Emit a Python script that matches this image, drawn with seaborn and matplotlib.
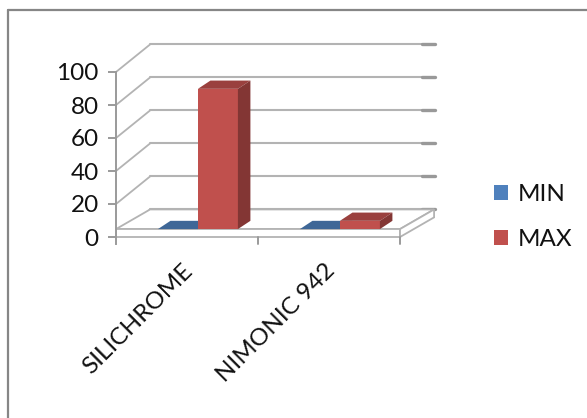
import matplotlib
matplotlib.use('Agg')
import matplotlib.pyplot as plt
from matplotlib.patches import Polygon, Patch
from matplotlib.transforms import ScaledTranslation
import seaborn as sns
import pandas as pd
import numpy as np

# data
materials = ["SILICHROME", "NIMONIC 942"]
series = ["MIN", "MAX"]
min_vals = [0, 0]
max_vals = [85, 5]
y_ticks = [0, 20, 40, 60, 80, 100]

colors = ["#4F81BD", "#C0504D"]
grid_col = "#b3b3b3"
axis_col = "#9a9a9a"

# 3d look (data units)
FLOOR = 4.8        # thickness of the floor slab
WALL_DX = 0.24     # depth offset of the back wall
WALL_DY = 16.7
BAR_DX = 0.088     # depth of a bar
BAR_DY = 5.0
BAR_SHIFT = 0.077
WALL_RIGHT = 1.655
STUB_RIGHT = 1.745
FS = 17.5

df = pd.DataFrame({
    "material": materials * 2,
    "series": [series[0]] * len(materials) + [series[1]] * len(materials),
    "value": min_vals + max_vals,
})

sns.set_style("white")
plt.rcParams['font.family'] = ['Lato', 'DejaVu Sans']

fig = plt.figure(figsize=(5.87, 4.18), dpi=100)
ax = fig.add_axes([116 / 587, 1 - 243.6 / 418, 319.5 / 587, 201.3 / 418])

sns.barplot(data=df, x="material", y="value", hue="series", palette=colors,
            width=0.563, saturation=1, ax=ax, legend=False, linewidth=0,
            order=materials, hue_order=series)

ax.set_xlim(-0.5, 1.75)
ax.set_ylim(-4, 118)


def shade(c, f):
    rgb = np.array(matplotlib.colors.to_rgb(c)) * f
    return tuple(rgb)


# back wall gridlines + left side diagonals
for v in y_ticks:
    ax.plot([-0.5 + WALL_DX, WALL_RIGHT], [v + WALL_DY, v + WALL_DY],
            color=grid_col, lw=1.5, zorder=1, clip_on=False)
    ax.plot([-0.5, -0.5 + WALL_DX], [v, v + WALL_DY],
            color=grid_col, lw=1.3, zorder=1, clip_on=False)
    ax.plot([WALL_RIGHT, STUB_RIGHT], [v + WALL_DY, v + WALL_DY],
            color="#999999", lw=2.4, zorder=1, clip_on=False)

# floor slab
floor_top = Polygon([(-0.5, FLOOR), (1.5, FLOOR), (1.5 + WALL_DX, WALL_DY),
                     (-0.5 + WALL_DX, WALL_DY)], closed=True,
                    facecolor="white", edgecolor=grid_col, lw=1.3, zorder=2)
floor_front = Polygon([(-0.5, 0), (1.5, 0), (1.5, FLOOR), (-0.5, FLOOR)],
                      closed=True, facecolor="white", edgecolor=grid_col,
                      lw=1.3, zorder=2)
floor_side = Polygon([(1.5, 0), (1.5 + WALL_DX, WALL_DY - FLOOR),
                      (1.5 + WALL_DX, WALL_DY), (1.5, FLOOR)], closed=True,
                     facecolor="white", edgecolor=grid_col, lw=1.3, zorder=2)
for p in (floor_top, floor_front, floor_side):
    ax.add_patch(p)

# x ticks on the floor edge
for xt in [0.5, 1.5]:
    ax.plot([xt, xt], [0, -4], color=axis_col, lw=1.4, zorder=2, clip_on=False)

# turn the flat seaborn bars into boxes
for container, col in zip(ax.containers, colors):
    for bar in container:
        x0 = bar.get_x() + BAR_SHIFT
        w = bar.get_width()
        h = bar.get_height()
        bar.set_x(x0)
        bar.set_y(FLOOR)
        bar.set_zorder(3 + x0)
        y1 = FLOOR + h
        top = Polygon([(x0, y1), (x0 + w, y1), (x0 + w + BAR_DX, y1 + BAR_DY),
                       (x0 + BAR_DX, y1 + BAR_DY)], closed=True,
                      facecolor=shade(col, 0.8), edgecolor="none", zorder=3 + x0)
        side = Polygon([(x0 + w, FLOOR), (x0 + w, y1),
                        (x0 + w + BAR_DX, y1 + BAR_DY),
                        (x0 + w + BAR_DX, FLOOR + BAR_DY)], closed=True,
                       facecolor=shade(col, 0.68), edgecolor="none", zorder=3 + x0)
        ax.add_patch(top)
        ax.add_patch(side)

# axes styling
for s in ["top", "right", "bottom"]:
    ax.spines[s].set_visible(False)
ax.spines["left"].set_color(axis_col)
ax.spines["left"].set_linewidth(1.4)
ax.spines["left"].set_bounds(-4, 100)
ax.set_yticks(y_ticks)
ax.set_yticklabels([str(v) for v in y_ticks])
ax.tick_params(axis="y", direction="out", length=6, width=1.4, color=axis_col,
               labelsize=FS, pad=6.5, left=True, labelcolor="#111111")
ax.tick_params(axis="x", length=0, labelsize=FS, pad=12, labelcolor="#111111")
ax.set_xlabel("")
ax.set_ylabel("")
off = ScaledTranslation(-5 / 100, 0, fig.dpi_scale_trans)
for lab in ax.get_xticklabels():
    lab.set_rotation(45)
    lab.set_ha("right")
    lab.set_rotation_mode("anchor")
    lab.set_transform(lab.get_transform() + off)
ax.patch.set_alpha(0)

# legend
handles = [Patch(facecolor=c, edgecolor="none") for c in colors]
fig.legend(handles, series, loc="center left",
           bbox_to_anchor=(484 / 587, 1 - 217 / 418), frameon=False,
           fontsize=FS, handlelength=0.6, handleheight=0.6,
           handletextpad=0.4, labelspacing=1.0, borderaxespad=0,
           labelcolor="#111111")

# chart border (only top and left show)
fig.add_artist(plt.Line2D([8 / 587, 1], [1 - 9.5 / 418, 1 - 9.5 / 418],
                          transform=fig.transFigure, color="#868686", lw=1.6))
fig.add_artist(plt.Line2D([8 / 587, 8 / 587], [0, 1 - 9.5 / 418],
                          transform=fig.transFigure, color="#868686", lw=1.6))

fig.savefig("out.png", dpi=100)
